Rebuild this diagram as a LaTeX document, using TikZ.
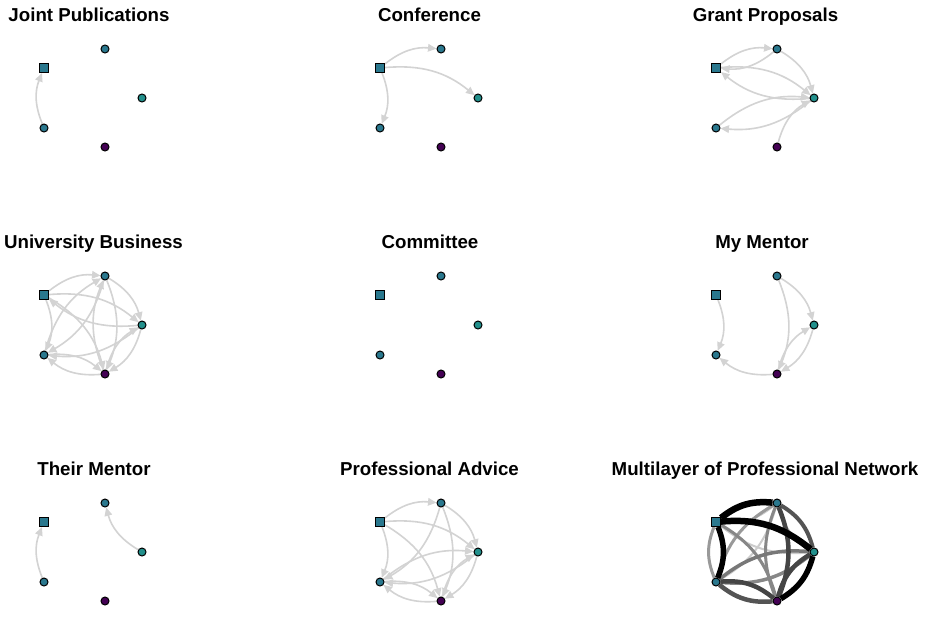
\documentclass[tikz,border=0pt]{standalone}
\usepackage{fontspec}
\setmainfont{Liberation Sans}
\usetikzlibrary{arrows.meta}
\pgfdeclarelayer{bg}
\pgfdeclarelayer{edges}
\pgfsetlayers{bg,edges,main}
\definecolor{cS}{HTML}{2A788E}
\definecolor{cA}{HTML}{2A788E}
\definecolor{cB}{HTML}{22908C}
\definecolor{cC}{HTML}{2A788E}
\definecolor{cD}{HTML}{440154}
\definecolor{edgegray}{HTML}{D3D3D3}
\tikzset{
  vsq/.style={rectangle,draw=black,line width=1pt,minimum size=9pt,inner sep=0pt},
  vci/.style={circle,draw=black,line width=1pt,minimum size=8pt,inner sep=0pt},
  edge/.style={draw=edgegray,line width=1.6pt,-{Triangle[length=8.5pt,width=7.5pt]},bend left=22},
  wedge/.style={line width=#1,bend left=22},
  ttl/.style={anchor=base,font=\fontsize{18.7}{20}\selectfont\bfseries,inner sep=0pt}
}
\newcommand\mkpanel[3]{%
  \node[vsq,fill=cS] (#1S) at ({44+#2},{68+#3}) {};
  \node[vci,fill=cA] (#1A) at ({105+#2},{49+#3}) {};
  \node[vci,fill=cB] (#1B) at ({142+#2},{98+#3}) {};
  \node[vci,fill=cC] (#1C) at ({44+#2},{128+#3}) {};
  \node[vci,fill=cD] (#1D) at ({105+#2},{147+#3}) {};
}
\newcommand\ed[3]{\draw[edge] (#1#2) to (#1#3);}
\newcommand\wed[4]{\draw[wedge=#4,draw=#3] (pI#1) to (pI#2);}
\begin{document}
\begin{tikzpicture}[x=1pt,y=-1pt]
\begin{pgfonlayer}{bg}
\fill[white] (0,0) rectangle (925,629);
\end{pgfonlayer}
\useasboundingbox (0,0) rectangle (925,629);
% titles
\node[ttl] (t1) at (89,21.5) {Joint Publications};
\node[ttl] (t2) at (429.5,21.5) {Conference};
\node[ttl] (t3) at (765.5,21.5) {Grant Proposals};
\node[ttl] (t4) at (93.5,248.5) {University Business};
\node[ttl] (t5) at (430,248.5) {Committee};
\node[ttl] (t6) at (762,248.5) {My Mentor};
\node[ttl] (t7) at (94,475.5) {Their Mentor};
\node[ttl] (t8) at (429.5,475.5) {Professional Advice};
\begin{scope}
\clip (0,0) rectangle (918,629);
\node[ttl] (t9) at (765,475.5) {Multilayer of Professional Network};
\end{scope}
% panels
\mkpanel{pA}{0}{0}
\mkpanel{pB}{336}{0}
\mkpanel{pC}{672}{0}
\mkpanel{pD}{0}{227}
\mkpanel{pE}{336}{227}
\mkpanel{pF}{672}{227}
\mkpanel{pG}{0}{454}
\mkpanel{pH}{336}{454}
\mkpanel{pI}{672}{454}
\begin{pgfonlayer}{edges}
% Joint Publications
\ed{pA}{C}{S}
% Conference
\ed{pB}{S}{A}\ed{pB}{S}{B}\ed{pB}{S}{C}
% Grant Proposals
\ed{pC}{S}{A}\ed{pC}{A}{S}\ed{pC}{S}{B}\ed{pC}{B}{S}
\ed{pC}{A}{B}\ed{pC}{C}{B}\ed{pC}{B}{C}\ed{pC}{D}{B}
% University Business
\ed{pD}{S}{A}\ed{pD}{S}{B}\ed{pD}{B}{S}\ed{pD}{S}{C}\ed{pD}{S}{D}
\ed{pD}{C}{A}\ed{pD}{A}{C}\ed{pD}{A}{D}\ed{pD}{D}{A}\ed{pD}{A}{B}
\ed{pD}{B}{C}\ed{pD}{C}{D}\ed{pD}{D}{C}\ed{pD}{B}{D}\ed{pD}{D}{B}
% My Mentor
\ed{pF}{S}{C}\ed{pF}{A}{B}\ed{pF}{A}{D}\ed{pF}{D}{B}\ed{pF}{B}{D}\ed{pF}{D}{C}
% Their Mentor
\ed{pG}{C}{S}\ed{pG}{B}{A}
% Professional Advice
\ed{pH}{S}{A}\ed{pH}{S}{B}\ed{pH}{S}{C}\ed{pH}{S}{D}
\ed{pH}{A}{B}\ed{pH}{A}{C}\ed{pH}{A}{D}
\ed{pH}{C}{B}\ed{pH}{B}{C}\ed{pH}{B}{D}\ed{pH}{D}{B}\ed{pH}{C}{D}\ed{pH}{D}{C}
% Multilayer
\wed{A}{S}{black!20}{2pt}
\wed{B}{S}{black!20}{2pt}
\wed{A}{C}{black!20}{2pt}
\wed{B}{A}{black!40}{2.5pt}
\wed{C}{S}{black!40}{3pt}
\wed{C}{A}{black!40}{3pt}
\wed{S}{D}{black!47}{3pt}
\wed{D}{A}{black!47}{3pt}
\wed{B}{C}{black!47}{3.5pt}
\wed{C}{B}{black!53}{3.5pt}
\wed{A}{B}{black!67}{4pt}
\wed{A}{D}{black!73}{4.5pt}
\wed{D}{B}{black!73}{4.5pt}
\wed{C}{D}{black!73}{4.5pt}
\wed{D}{C}{black!67}{4.5pt}
\wed{S}{A}{black}{6.5pt}
\wed{S}{B}{black}{6.5pt}
\wed{S}{C}{black}{5.5pt}
\wed{B}{D}{black}{5.5pt}
\end{pgfonlayer}
\end{tikzpicture}
\end{document}
